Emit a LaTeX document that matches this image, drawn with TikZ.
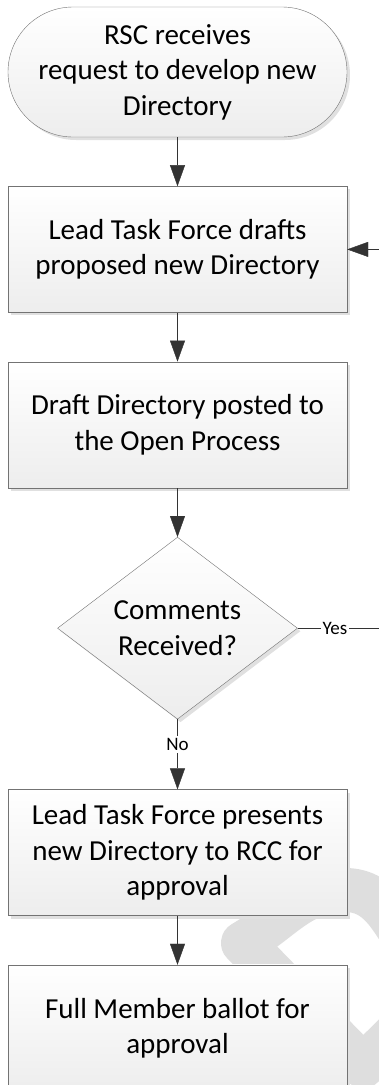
\documentclass[tikz,border=0pt]{standalone}
\usepackage{fontspec}
\setmainfont{Carlito}
\usepackage{tikz}
\usetikzlibrary{
	positioning,
	arrows.meta,
	shapes.geometric,
	shadows
}
\tikzset{
	box/.style={draw=black!55, top color=white, bottom color=black!7,
		drop shadow={shadow xshift=3pt,shadow yshift=-3pt,fill=black!12,opacity=1},
		align=center, inner sep=0pt, minimum width=339pt,
		font=\fontsize{29}{35.4}\selectfont},
	terminal/.style={box, rounded corners=65pt, minimum height=130pt},
	process/.style={box, minimum height=126pt},
	decision/.style={box, diamond, minimum width=240pt, minimum height=178pt},
	flow/.style={draw=black!80, -{Triangle[length=21pt,width=15pt]}},
	answer/.style={fill=white, inner sep=2pt, font=\fontsize{19}{22}\selectfont}
}

\begin{document}
\begin{tikzpicture}[x=1pt,y=1pt]
		\useasboundingbox (0,0) rectangle (379,-1085);

		% watermark in the corner
		\begin{scope}
			\clip (0,0) rectangle (379,-1085);
			\draw [line width=44pt, black!13, line join=round]
				(420,-960) to[out=130,in=0] (345,-890) to[out=180,in=30] (243,-943)
				-- (363,-1066) -- (420,-1010);
		\end{scope}

		\draw
			node [terminal]                       (rsc)      at (177.5,-72) {RSC receives\\request to develop new\\Directory}
			node [process,below=49pt of rsc]      (drafts)   {Lead Task Force drafts\\proposed new Directory}
			node [process,below=49pt of drafts]   (posted)   {Draft Directory posted to\\the Open Process}
			node [decision,below=49pt of posted]  (comments) {Comments\\Received?}
			node [process,below=70pt of comments] (presents) {Lead Task Force presents\\new Directory to RCC for\\approval}
			node [process,below=49pt of presents] (ballot)   {Full Member ballot for\\approval}
			coordinate [right=32pt of drafts]     (back)
			coordinate [right=81pt of comments]   (yesend)

			(rsc)      edge [flow]             (drafts)
			(drafts)   edge [flow]             (posted)
			(posted)   edge [flow]             (comments)
			(comments) edge [flow]             node [answer,pos=0.36] {No}  (presents)
			(presents) edge [flow]             (ballot)
			(comments) edge [draw=black!80]    node [answer,pos=0.46] {Yes} (yesend)
			(back)     edge [flow]             (drafts)
		;
\end{tikzpicture}
\end{document}
